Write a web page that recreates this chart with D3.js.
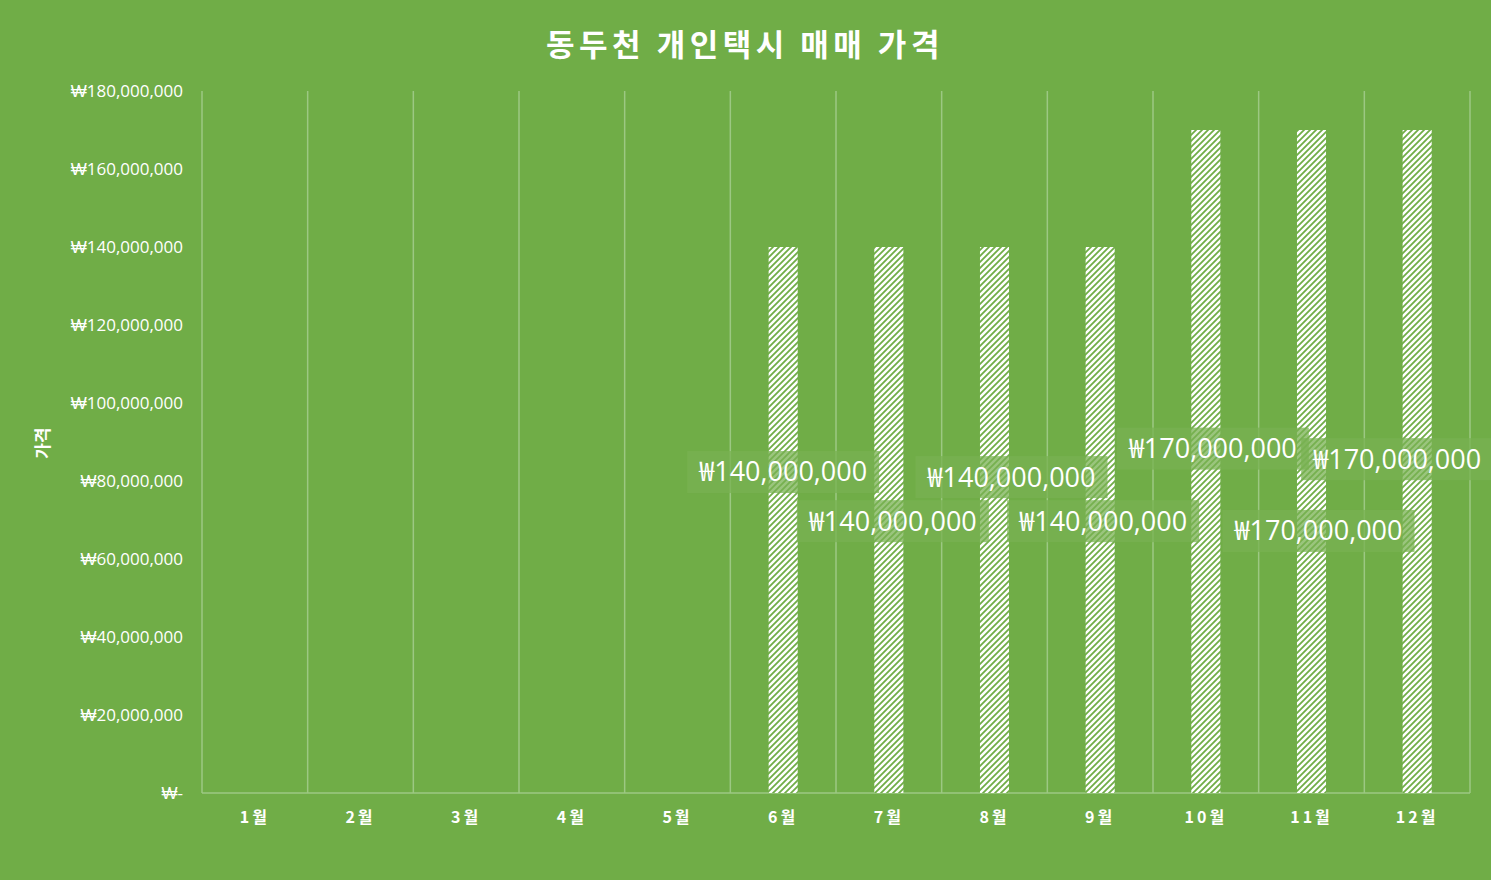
<!DOCTYPE html>
<html>
<head>
<meta charset="utf-8">
<script src="https://cdn.jsdelivr.net/npm/d3@7"></script>
<style>
  body { margin: 0; background: #70ad47; }
  text { font-family: "Open Sans", "Noto Sans CJK KR", sans-serif; fill: #fff; }
</style>
</head>
<body>
<div id="container"></div>
<script>
const WIDTH = 1491,
  HEIGHT = 880,
  LEFT = 202, RIGHT = 1470, TOP = 91, BOTTOM = 793;

// data
const months = ["1월", "2월", "3월", "4월", "5월", "6월", "7월", "8월", "9월", "10월", "11월", "12월"];
const prices = [null, null, null, null, null, 140000000, 140000000, 140000000, 140000000, 170000000, 170000000, 170000000];
const yTicks = [0, 20000000, 40000000, 60000000, 80000000, 100000000, 120000000, 140000000, 160000000, 180000000];

// where each data label sits (dx in px, y as value)
const labelPos = [null, null, null, null, null,
  [0, 82300000], [4, 69700000], [17, 81000000], [3, 69700000],
  [7, 88300000], [7, 67200000], [-20, 85600000]];

const fmt = v => v === 0 ? "₩-" : "₩" + d3.format(",")(v);

const svg = d3.select("#container")
  .append("svg")
  .attr("width", WIDTH)
  .attr("height", HEIGHT)
  .style("background-color", "#70ad47");

const defs = svg.append("defs");
const pat = defs.append("pattern")
  .attr("id", "hatch")
  .attr("patternUnits", "userSpaceOnUse")
  .attr("width", 6).attr("height", 6);
pat.append("rect").attr("width", 6).attr("height", 6).attr("fill", "#ffffff");
pat.append("path")
  .attr("d", "M-1,1 l2,-2 M0,6 l6,-6 M5,7 l2,-2")
  .attr("stroke", "#70ad47")
  .attr("stroke-width", 1.8);

// Scales
const xScale = d3.scaleBand()
  .domain(months)
  .range([LEFT, RIGHT])
  .paddingInner(0.725)
  .paddingOuter(0.3625);

const bandX = d3.scaleBand().domain(months).range([LEFT, RIGHT]);

const yScale = d3.scaleLinear()
  .domain([0, 180000000])
  .range([BOTTOM, TOP]);

// vertical gridlines at category boundaries
const edges = months.map(m => bandX(m)).concat([RIGHT]);
svg.selectAll(".vgrid")
  .data(edges)
  .join("line")
  .attr("class", "vgrid")
  .attr("x1", d => d).attr("x2", d => d)
  .attr("y1", TOP).attr("y2", BOTTOM)
  .attr("stroke", "#9cc883")
  .attr("stroke-width", 1.5);

svg.append("line")
  .attr("x1", LEFT).attr("x2", RIGHT)
  .attr("y1", BOTTOM).attr("y2", BOTTOM)
  .attr("stroke", "#9cc883")
  .attr("stroke-width", 1.5);

// bars
const barData = months.map((m, i) => ({ m, v: prices[i], pos: labelPos[i] })).filter(d => d.v != null);

svg.selectAll(".bar")
  .data(barData)
  .join("rect")
  .attr("class", "bar")
  .attr("x", d => xScale(d.m))
  .attr("width", xScale.bandwidth())
  .attr("y", d => yScale(d.v))
  .attr("height", d => yScale(0) - yScale(d.v))
  .attr("fill", "url(#hatch)");

// y axis
const yAxis = svg.append("g")
  .attr("transform", `translate(${LEFT - 19},0)`)
  .call(d3.axisLeft(yScale).tickValues(yTicks).tickFormat(fmt).tickSize(0).tickPadding(0));
yAxis.select(".domain").remove();
yAxis.selectAll("text")
  .attr("fill", "#fff")
  .attr("dy", "0.3em")
  .style("font-size", "17px")
  .style("font-family", "\"Open Sans\", sans-serif");

// x axis
const xAxis = svg.append("g")
  .attr("transform", `translate(0,${BOTTOM})`)
  .call(d3.axisBottom(bandX).tickSize(0).tickPadding(19));
xAxis.select(".domain").remove();
xAxis.selectAll("text")
  .attr("fill", "#fff")
  .style("font-size", "16px")
  .style("font-weight", "bold")
  .style("letter-spacing", "3px")
  .style("font-family", "\"Noto Sans CJK KR\", sans-serif");

// data labels
const labels = svg.selectAll(".lbl")
  .data(barData)
  .join("g")
  .attr("class", "lbl")
  .attr("transform", d => `translate(${bandX(d.m) + bandX.bandwidth() / 2 + d.pos[0]},${yScale(d.pos[1])})`);

labels.append("rect")
  .attr("x", -96).attr("y", -21)
  .attr("width", 192).attr("height", 42)
  .attr("fill", "#78b152")
  .attr("fill-opacity", 0.75);

labels.append("text")
  .attr("text-anchor", "middle")
  .attr("dy", "0.35em")
  .style("font-size", "27px")
  .text(d => fmt(d.v));

// title
svg.append("text")
  .attr("x", 745).attr("y", 56)
  .attr("text-anchor", "middle")
  .style("font-size", "31px")
  .style("font-weight", "bold")
  .style("letter-spacing", "4.5px")
  .style("font-family", "\"Noto Sans CJK KR\", sans-serif")
  .text("동두천 개인택시 매매 가격");

// y axis title
svg.append("text")
  .attr("transform", "translate(49,443) rotate(-90)")
  .attr("text-anchor", "middle")
  .style("font-size", "17px")
  .style("font-weight", "bold")
  .style("font-family", "\"Noto Sans CJK KR\", sans-serif")
  .text("가격");
</script>
</body>
</html>
